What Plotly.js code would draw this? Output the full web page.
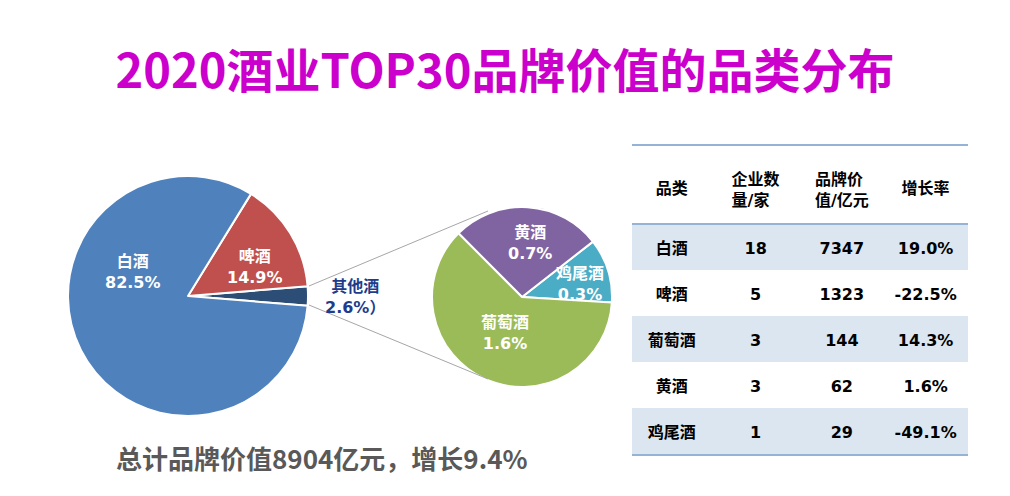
<!DOCTYPE html>
<html>
<head>
<meta charset="utf-8">
<script src="https://cdn.plot.ly/plotly-3.0.1.min.js"></script>
<style>
html,body{margin:0;padding:0;background:#fff;}
#chart{width:1010px;height:496px;}
</style>
</head>
<body>
<div id="chart"></div>
<script>
// ---- data ----
const titleText = '2020酒业TOP30品牌价值的品类分布';
const summaryText = '总计品牌价值8904亿元，增长9.4%';

const mainLabels = ['其他酒', '啤酒', '白酒'];
const mainShares = [2.6, 14.9, 82.5];
const mainSuffix = ['）', '', ''];

const otherLabels = ['鸡尾酒', '黄酒', '葡萄酒'];
const otherShares = [0.3, 0.7, 1.6];

const tableHeaders = ['品类', '企业数<br>量/家', '品牌价<br>值/亿元', '增长率'];
const tableCategories = ['白酒', '啤酒', '葡萄酒', '黄酒', '鸡尾酒'];
const companyCounts = [18, 5, 3, 3, 1];
const brandValues = [7347, 1323, 144, 62, 29];
const growthRates = ['19.0%', '-22.5%', '14.3%', '1.6%', '-49.1%'];

// ---- layout helpers ----
const W = 1010, H = 496;
const px = (x) => x / W;
const py = (y) => 1 - y / H;

const CJK = 'Noto Sans CJK SC, sans-serif';
const MIX = 'DejaVu Sans, Noto Sans CJK SC, sans-serif';

const mainColors = ['#2C4D75', '#C0504D', '#4F81BD'];
const otherColors = ['#4BACC6', '#8064A2', '#9BBB59'];

const bold = (v) => '<b>' + v + '</b>';
const clear = 'rgba(0,0,0,0)';
const noLine = {width: 0, color: clear};
const tblFont = {family: MIX, size: 16, color: '#000000'};
const colW = [80, 88, 85, 83];
const tblX = [px(632), px(968)];
const isTwoLine = tableHeaders.map(h => h.indexOf('<br>') >= 0);
const bandColors = tableCategories.map((_, i) => i % 2 === 0 ? '#DCE6F1' : '#ffffff');

const traces = [
  {
    type: 'pie', labels: mainLabels, values: mainShares, sort: false,
    direction: 'counterclockwise', rotation: 85.3,
    marker: {colors: mainColors, line: {color: '#ffffff', width: 2}},
    textinfo: 'none', hoverinfo: 'label+percent', showlegend: false,
    domain: {x: [px(68), px(308)], y: [py(416), py(176)]}
  },
  {
    type: 'pie', labels: otherLabels, values: otherShares, sort: false,
    direction: 'counterclockwise', rotation: 52,
    marker: {colors: otherColors, line: {color: '#ffffff', width: 2}},
    textinfo: 'none', hoverinfo: 'label+value', showlegend: false,
    domain: {x: [px(432), px(612)], y: [py(387), py(207)]}
  },
  // table background (header + banded rows)
  {
    type: 'table', domain: {x: tblX, y: [py(470), py(145)]},
    columnwidth: colW,
    header: {values: tableHeaders.map(() => ''), height: 79, fill: {color: '#ffffff'}, line: {width: 1, color: '#ffffff'}},
    cells: {
      values: tableHeaders.map(() => tableCategories.map(() => '')), height: 46,
      fill: {color: [bandColors]},
      line: {width: 1, color: [bandColors]}
    }
  },
  // table text: two-line headers + body cells (vertically centred)
  {
    type: 'table', domain: {x: tblX, y: [py(480), py(162)]},
    columnwidth: colW,
    header: {
      values: tableHeaders.map((h, i) => isTwoLine[i] ? bold(h) : ''),
      align: 'center', height: 69, fill: {color: clear}, line: noLine, font: tblFont
    },
    cells: {
      values: [
        tableCategories.map(bold),
        companyCounts.map(bold),
        brandValues.map(bold),
        growthRates.map(bold)
      ],
      align: 'center', height: 46, fill: {color: clear}, line: noLine, font: tblFont
    }
  },
  // table text: single-line headers
  {
    type: 'table', domain: {x: tblX, y: [py(230), py(171)]},
    columnwidth: colW,
    header: {
      values: tableHeaders.map((h, i) => isTwoLine[i] ? '' : bold(h)),
      align: 'center', height: 40, fill: {color: clear}, line: noLine, font: tblFont
    },
    cells: {values: tableHeaders.map(() => []), fill: {color: clear}, line: noLine}
  }
];

// label positions (pixels) for pie annotations
const mainLabelPos = [[355, 297, '#1F3C8C'], [255, 267, '#ffffff'], [133, 272, '#ffffff']];
const otherLabelPos = [[580, 284], [530, 243], [505, 333]];

const annotations = [];
mainLabels.forEach((lab, i) => {
  const p = mainLabelPos[i];
  annotations.push({
    xref: 'paper', yref: 'paper', x: px(p[0]), y: py(p[1]),
    xanchor: 'center', yanchor: 'middle', showarrow: false,
    text: bold(lab + '<br>' + mainShares[i].toFixed(1) + '%' + mainSuffix[i]),
    font: {family: MIX, size: 16, color: p[2]}
  });
});
otherLabels.forEach((lab, i) => {
  const p = otherLabelPos[i];
  annotations.push({
    xref: 'paper', yref: 'paper', x: px(p[0]), y: py(p[1]),
    xanchor: 'center', yanchor: 'middle', showarrow: false,
    text: bold(lab + '<br>' + otherShares[i].toFixed(1) + '%'),
    font: {family: MIX, size: 16, color: '#ffffff'}
  });
});
annotations.push({
  xref: 'paper', yref: 'paper', x: px(322), y: py(457),
  xanchor: 'center', yanchor: 'middle', showarrow: false,
  text: bold(summaryText),
  font: {family: CJK, size: 26, color: '#595959'}
});

const lineStyle = {color: '#A6A6A6', width: 1};
const tableLine = {color: '#95B3D7', width: 2};
const shapes = [
  {type: 'line', xref: 'paper', yref: 'paper', x0: px(309), y0: py(286), x1: px(488), y1: py(211), line: lineStyle},
  {type: 'line', xref: 'paper', yref: 'paper', x0: px(309), y0: py(305), x1: px(488), y1: py(379), line: lineStyle},
  {type: 'line', xref: 'paper', yref: 'paper', x0: px(632), y0: py(145), x1: px(968), y1: py(145), line: tableLine, layer: 'above'},
  {type: 'line', xref: 'paper', yref: 'paper', x0: px(632), y0: py(224), x1: px(968), y1: py(224), line: tableLine, layer: 'above'},
  {type: 'line', xref: 'paper', yref: 'paper', x0: px(632), y0: py(455), x1: px(968), y1: py(455), line: tableLine, layer: 'above'}
];

const layout = {
  width: W, height: H,
  margin: {l: 0, r: 0, t: 0, b: 0},
  paper_bgcolor: '#ffffff',
  title: {
    text: bold(titleText),
    x: 0.5, xanchor: 'center', xref: 'paper',
    y: py(72), yanchor: 'middle', yref: 'container',
    font: {family: CJK, size: 47, color: '#CC00CC'}
  },
  annotations: annotations,
  shapes: shapes
};

Plotly.newPlot('chart', traces, layout, {displayModeBar: false, staticPlot: true});
</script>
</body>
</html>
